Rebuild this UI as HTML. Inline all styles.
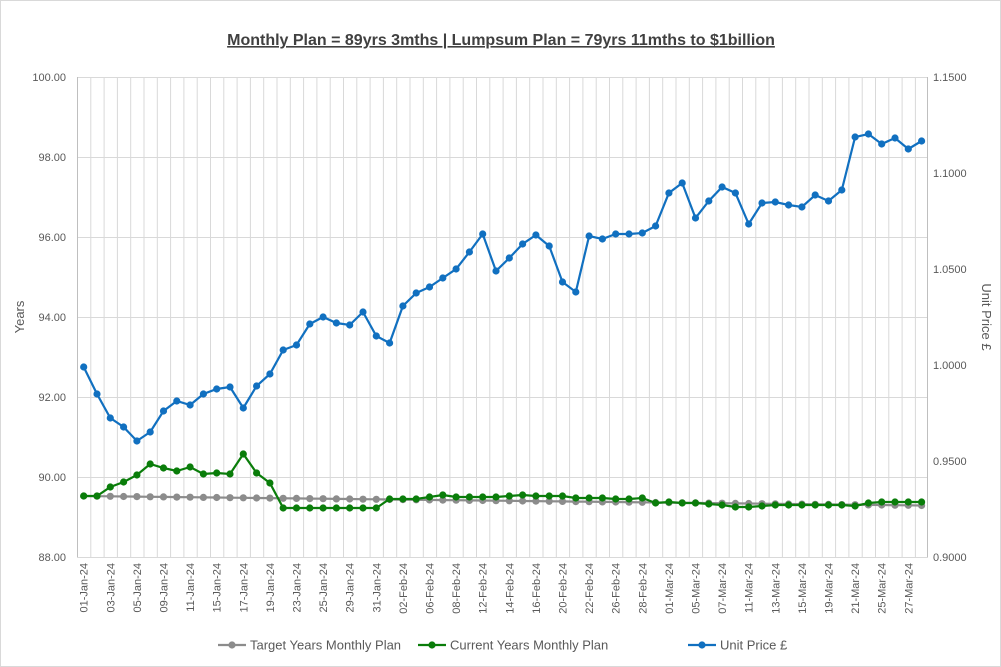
<!DOCTYPE html>
<html><head><meta charset="utf-8"><style>
html,body{margin:0;padding:0;background:#fff}
svg{display:block;font-family:"Liberation Sans",Arial,sans-serif}
</style></head><body>
<svg width="1001" height="667" viewBox="0 0 1001 667" xmlns="http://www.w3.org/2000/svg">
<defs>
<marker id="mb" markerUnits="userSpaceOnUse" markerWidth="10" markerHeight="10" refX="5" refY="5"><circle cx="5" cy="5" r="3.6" fill="#1170C0"/></marker>
<marker id="mg" markerUnits="userSpaceOnUse" markerWidth="10" markerHeight="10" refX="5" refY="5"><circle cx="5" cy="5" r="3.6" fill="#0A7D0A"/></marker>
<marker id="mx" markerUnits="userSpaceOnUse" markerWidth="10" markerHeight="10" refX="5" refY="5"><circle cx="5" cy="5" r="3.6" fill="#8C8C8C"/></marker>
</defs>
<rect width="1001" height="667" fill="#fff"/>
<rect x="0.5" y="0.5" width="1000" height="666" fill="none" stroke="#d9d9d9"/>
<text x="501" y="45" text-anchor="middle" font-size="16" font-weight="bold" fill="#404040" text-decoration="underline">Monthly Plan = 89yrs 3mths | Lumpsum Plan = 79yrs 11mths to $1billion</text>
<g stroke="#d9d9d9" stroke-width="1">
<path d="M77 77.5H928M77 157.5H928M77 237.5H928M77 317.5H928M77 397.5H928M77 477.5H928M77 557.5H928"/>
<path id="vg" d=""/>
</g>
<g stroke="#d9d9d9" stroke-width="1" id="vgrid">
<path d="M90.8 77V557M104.1 77V557M117.4 77V557M130.7 77V557M144 77V557M157.3 77V557M170.6 77V557M183.9 77V557M197.2 77V557M210.5 77V557M223.8 77V557M237.1 77V557M250.4 77V557M263.7 77V557M277 77V557M290.3 77V557M303.6 77V557M316.9 77V557M330.2 77V557M343.5 77V557M356.8 77V557M370.1 77V557M383.4 77V557M396.7 77V557M410 77V557M423.3 77V557M436.6 77V557M449.9 77V557M463.2 77V557M476.5 77V557M489.8 77V557M503.1 77V557M516.4 77V557M529.7 77V557M543 77V557M556.3 77V557M569.6 77V557M582.9 77V557M596.2 77V557M609.5 77V557M622.8 77V557M636.1 77V557M649.4 77V557M662.7 77V557M676 77V557M689.3 77V557M702.6 77V557M715.9 77V557M729.2 77V557M742.5 77V557M755.8 77V557M769.1 77V557M782.4 77V557M795.7 77V557M809 77V557M822.3 77V557M835.6 77V557M848.9 77V557M862.2 77V557M875.5 77V557M888.8 77V557M902.1 77V557M915.4 77V557"/>
</g>
<path d="M77.5 77V557M927.5 77V557" stroke="#bfbfbf"/>
<g font-size="11" fill="#595959" text-anchor="end">
<text x="66" y="81">100.00</text><text x="66" y="161">98.00</text><text x="66" y="241">96.00</text><text x="66" y="321">94.00</text><text x="66" y="401">92.00</text><text x="66" y="481">90.00</text><text x="66" y="561">88.00</text>
</g>
<g font-size="11" fill="#595959">
<text x="933" y="81">1.1500</text><text x="933" y="177">1.1000</text><text x="933" y="273">1.0500</text><text x="933" y="369">1.0000</text><text x="933" y="465">0.9500</text><text x="933" y="561">0.9000</text>
</g>
<text transform="translate(24,317) rotate(-90)" text-anchor="middle" font-size="13" fill="#595959">Years</text>
<text transform="translate(982,317) rotate(90)" text-anchor="middle" font-size="13" fill="#595959">Unit Price £</text>
<g font-size="11" fill="#595959" text-anchor="end">
<text transform="translate(87.7,563) rotate(-90)">01-Jan-24</text>
<text transform="translate(114.3,563) rotate(-90)">03-Jan-24</text>
<text transform="translate(140.9,563) rotate(-90)">05-Jan-24</text>
<text transform="translate(167.5,563) rotate(-90)">09-Jan-24</text>
<text transform="translate(194.1,563) rotate(-90)">11-Jan-24</text>
<text transform="translate(220.7,563) rotate(-90)">15-Jan-24</text>
<text transform="translate(247.3,563) rotate(-90)">17-Jan-24</text>
<text transform="translate(273.9,563) rotate(-90)">19-Jan-24</text>
<text transform="translate(300.5,563) rotate(-90)">23-Jan-24</text>
<text transform="translate(327.1,563) rotate(-90)">25-Jan-24</text>
<text transform="translate(353.7,563) rotate(-90)">29-Jan-24</text>
<text transform="translate(380.3,563) rotate(-90)">31-Jan-24</text>
<text transform="translate(406.9,563) rotate(-90)">02-Feb-24</text>
<text transform="translate(433.5,563) rotate(-90)">06-Feb-24</text>
<text transform="translate(460.1,563) rotate(-90)">08-Feb-24</text>
<text transform="translate(486.7,563) rotate(-90)">12-Feb-24</text>
<text transform="translate(513.3,563) rotate(-90)">14-Feb-24</text>
<text transform="translate(539.9,563) rotate(-90)">16-Feb-24</text>
<text transform="translate(566.5,563) rotate(-90)">20-Feb-24</text>
<text transform="translate(593.1,563) rotate(-90)">22-Feb-24</text>
<text transform="translate(619.7,563) rotate(-90)">26-Feb-24</text>
<text transform="translate(646.3,563) rotate(-90)">28-Feb-24</text>
<text transform="translate(672.9,563) rotate(-90)">01-Mar-24</text>
<text transform="translate(699.5,563) rotate(-90)">05-Mar-24</text>
<text transform="translate(726.1,563) rotate(-90)">07-Mar-24</text>
<text transform="translate(752.7,563) rotate(-90)">11-Mar-24</text>
<text transform="translate(779.3,563) rotate(-90)">13-Mar-24</text>
<text transform="translate(805.9,563) rotate(-90)">15-Mar-24</text>
<text transform="translate(832.5,563) rotate(-90)">19-Mar-24</text>
<text transform="translate(859.1,563) rotate(-90)">21-Mar-24</text>
<text transform="translate(885.7,563) rotate(-90)">25-Mar-24</text>
<text transform="translate(912.3,563) rotate(-90)">27-Mar-24</text>
</g>
<!-- gray target -->
<polyline fill="none" stroke="#8C8C8C" stroke-width="2.2" marker-start="url(#mx)" marker-mid="url(#mx)" marker-end="url(#mx)" points="83.7,496 97,496.2 110.3,496.3 123.6,496.5 136.9,496.6 150.2,496.8 163.5,496.9 176.8,497.1 190.1,497.2 203.4,497.4 216.7,497.5 230,497.7 243.3,497.8 256.6,498 269.9,498.1 283.2,498.3 296.5,498.4 309.8,498.6 323.1,498.7 336.4,498.9 349.7,499 363,499.2 376.3,499.3 389.6,499.5 402.9,499.6 416.2,499.8 429.5,499.9 442.8,500.1 456.1,500.2 469.4,500.4 482.7,500.5 496,500.7 509.3,500.8 522.6,501 535.9,501.1 549.2,501.3 562.5,501.4 575.8,501.6 589.1,501.7 602.4,501.9 615.7,502 629,502.2 642.3,502.3 655.6,502.5 668.9,502.6 682.2,502.8 695.5,502.9 708.8,503.1 722.1,503.2 735.4,503.4 748.7,503.5 762,503.7 775.3,503.8 788.6,504 801.9,504.1 815.2,504.3 828.5,504.4 841.8,504.6 855.1,504.7 868.4,504.9 881.7,505 895,505.2 908.3,505.3 921.6,505.5"/>
<!-- green current -->
<polyline fill="none" stroke="#0A7D0A" stroke-width="2.2" marker-start="url(#mg)" marker-mid="url(#mg)" marker-end="url(#mg)" points="83.7,496 97,496 110.3,487 123.6,482 136.9,475 150.2,464 163.5,468 176.8,471 190.1,467 203.4,474 216.7,473 230,474 243.3,454 256.6,473 269.9,483 283.2,508 296.5,508 309.8,508 323.1,508 336.4,508 349.7,508 363,508 376.3,508 389.6,499 402.9,499 416.2,499 429.5,497 442.8,495 456.1,497 469.4,497 482.7,497 496,497 509.3,496 522.6,495 535.9,496 549.2,496 562.5,496 575.8,498 589.1,498 602.4,498 615.7,499 629,499 642.3,498 655.6,503 668.9,502 682.2,503 695.5,503 708.8,504 722.1,505 735.4,507 748.7,507 762,506 775.3,505 788.6,505 801.9,505 815.2,505 828.5,505 841.8,505 855.1,506 868.4,503 881.7,502 895,502 908.3,502 921.6,502"/>
<!-- blue unit price -->
<polyline fill="none" stroke="#1170C0" stroke-width="2.2" marker-start="url(#mb)" marker-mid="url(#mb)" marker-end="url(#mb)" points="83.7,367 97,394 110.3,418 123.6,427 136.9,441 150.2,432 163.5,411 176.8,401 190.1,405 203.4,394 216.7,389 230,387 243.3,408 256.6,386 269.9,374 283.2,350 296.5,345 309.8,324 323.1,317 336.4,323 349.7,325 363,312 376.3,336 389.6,343 402.9,306 416.2,293 429.5,287 442.8,278 456.1,269 469.4,252 482.7,234 496,271 509.3,258 522.6,244 535.9,235 549.2,246 562.5,282 575.8,292 589.1,236 602.4,239 615.7,234 629,234 642.3,233 655.6,226 668.9,193 682.2,183 695.5,218 708.8,201 722.1,187 735.4,193 748.7,224 762,203 775.3,202 788.6,205 801.9,207 815.2,195 828.5,201 841.8,190 855.1,137 868.4,134 881.7,144 895,138 908.3,149 921.6,141"/>
<!-- legend -->
<g font-size="13" fill="#595959">
<line x1="218" y1="645" x2="246" y2="645" stroke="#8C8C8C" stroke-width="2.2"/><circle cx="232" cy="645" r="3.6" fill="#8C8C8C"/>
<text x="250" y="649.5">Target Years Monthly Plan</text>
<line x1="418" y1="645" x2="446" y2="645" stroke="#0A7D0A" stroke-width="2.2"/><circle cx="432" cy="645" r="3.6" fill="#0A7D0A"/>
<text x="450" y="649.5">Current Years Monthly Plan</text>
<line x1="688" y1="645" x2="716" y2="645" stroke="#1170C0" stroke-width="2.2"/><circle cx="702" cy="645" r="3.6" fill="#1170C0"/>
<text x="720" y="649.5">Unit Price £</text>
</g>
</svg>
</body></html>
